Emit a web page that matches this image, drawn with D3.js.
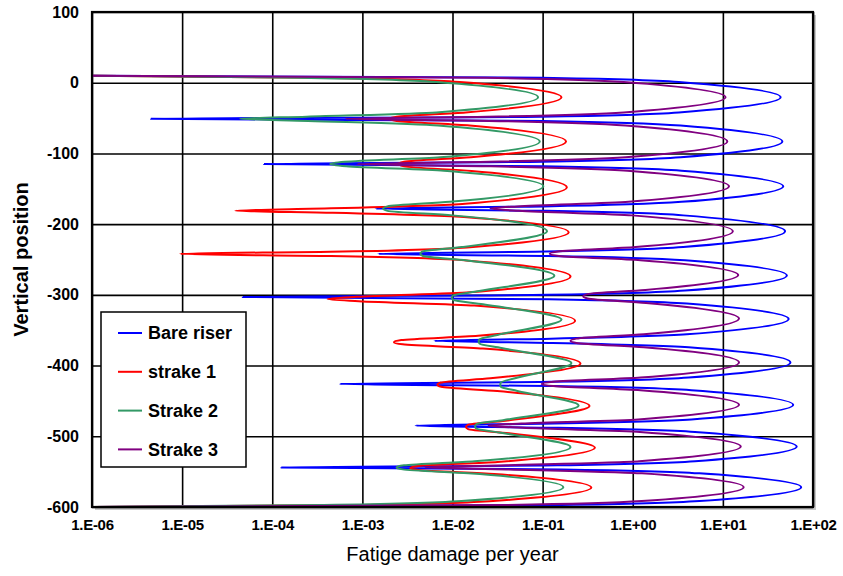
<!DOCTYPE html>
<html>
<head>
<meta charset="utf-8">
<script src="https://cdn.jsdelivr.net/npm/d3@7"></script>
<style>
  body { margin: 0; background: #fff; }
  #app { width: 843px; height: 576px; }
</style>
</head>
<body>
<div id="app"></div>
<script>
// [vertical position, fatigue damage per year]
const bareRiser = [
  [10, 1e-6], [7, 0.095], [1, 3.24], [-20.5, 43.7], [-42, 3.24], [-48, 0.095],
  [-51, 4.5e-6], [-54, 0.1], [-60.6, 3.39], [-83, 45.7], [-105.4, 3.39], [-111.8, 0.1],
  [-115, 8.1e-5], [-118.2, 0.102], [-124.5, 3.47], [-146.5, 46.8], [-168.5, 3.47], [-174.9, 0.103],
  [-178, 1.4e-3], [-181.2, 0.108], [-187.6, 3.63], [-210, 49], [-232.4, 3.63], [-238.8, 0.108],
  [-242, 1.5e-3], [-245, 0.114], [-251.2, 3.8], [-272.5, 51.3], [-293.9, 3.8], [-300, 0.112],
  [-303, 4.7e-5], [-306.1, 0.117], [-312.3, 3.98], [-334, 53.7], [-355.7, 3.98], [-361.9, 0.123],
  [-365, 6.3e-3], [-368, 0.129], [-374.2, 4.17], [-395.5, 56.2], [-416.9, 4.17], [-423, 0.124],
  [-426, 5.6e-4], [-429, 0.132], [-434.9, 4.47], [-455.5, 60.3], [-476.2, 4.47], [-482, 0.136],
  [-485, 3.9e-3], [-488, 0.149], [-493.9, 4.9], [-514.5, 66], [-535.2, 4.9], [-541, 0.145],
  [-544, 1.26e-4], [-546.8, 0.162], [-552.4, 5.5], [-572, 74], [-591.6, 5.5], [-597.2, 0.162],
  [-600, 1e-6]
];

const strake1 = [
  [10, 1e-6], [7, 3.5e-4], [1, 0.012], [-20.5, 0.162], [-42, 0.014], [-48, 0.0024],
  [-51, 2e-3], [-54, 0.0024], [-60.6, 0.0155], [-83, 0.182], [-105.4, 0.016], [-111.8, 0.0029],
  [-115, 2.5e-3], [-118.3, 0.0029], [-124.9, 0.0163], [-148, 0.186], [-171.1, 0.0138], [-177.7, 4.5e-4],
  [-181, 3.9e-5], [-184, 4.7e-4], [-190.2, 0.0145], [-211.5, 0.195], [-232.9, 0.0145], [-239, 4.4e-4],
  [-242, 9.5e-6], [-245.2, 4.5e-4], [-251.6, 0.0151], [-274, 0.204], [-296.4, 0.0155], [-302.8, 8.6e-4],
  [-306, 4.1e-4], [-309, 9.1e-4], [-315.2, 0.0174], [-336.5, 0.229], [-357.9, 0.0192], [-364, 0.0027],
  [-367, 2.24e-3], [-370, 0.0028], [-376, 0.0217], [-397, 0.263], [-418, 0.0263], [-424, 0.0074],
  [-427, 6.8e-3], [-430, 0.0075], [-436, 0.0313], [-457, 0.331], [-478, 0.0386], [-484, 0.0148],
  [-487, 1.41e-2], [-489.9, 0.0149], [-495.7, 0.0423], [-516, 0.38], [-536.3, 0.0316], [-542.1, 0.0042],
  [-545, 3.4e-3], [-547.8, 0.0042], [-553.3, 0.0291], [-572.5, 0.347], [-591.8, 0.0257], [-597.2, 7.6e-4],
  [-600, 1e-6]
];

const strake2 = [
  [10, 1e-6], [7, 1.95e-4], [1, 0.0066], [-20.5, 0.089], [-42, 0.0066], [-48, 2.4e-4],
  [-51, 4.4e-5], [-54, 2.5e-4], [-60.6, 0.0069], [-83, 0.093], [-105.4, 0.0073], [-111.8, 6.4e-4],
  [-115, 4.4e-4], [-118.2, 6.6e-4], [-124.5, 0.008], [-146.5, 0.102], [-168.5, 0.0093], [-174.9, 0.0019],
  [-178, 1.7e-3], [-181.2, 0.0019], [-187.6, 0.01], [-210, 0.112], [-232.4, 0.0127], [-238.8, 0.0046],
  [-242, 4.4e-3], [-245.1, 0.0047], [-251.3, 0.0144], [-273, 0.135], [-294.7, 0.0198], [-300.9, 0.0101],
  [-304, 9.8e-3], [-307.1, 0.0102], [-313.3, 0.0218], [-335, 0.162], [-356.7, 0.0315], [-362.9, 0.0199],
  [-366, 1.95e-2], [-369, 0.02], [-375.2, 0.035], [-396.5, 0.209], [-417.9, 0.0494], [-424, 0.0344],
  [-427, 3.39e-2], [-430, 0.0344], [-435.9, 0.0525], [-456.5, 0.251], [-477.2, 0.0364], [-483, 0.0184],
  [-486, 1.78e-2], [-488.9, 0.0183], [-494.7, 0.033], [-515, 0.204], [-535.3, 0.0175], [-541.1, 0.0029],
  [-544, 2.4e-3], [-546.8, 0.0028], [-552.4, 0.015], [-572, 0.17], [-591.6, 0.0126], [-597.2, 3.7e-4],
  [-600, 1e-6]
];

const strake3 = [
  [10, 1e-6], [7, 0.0234], [1, 0.794], [-20.5, 10.7], [-42, 0.795], [-48, 0.024],
  [-51, 6.5e-4], [-54, 0.0252], [-60.6, 0.832], [-83, 11.2], [-105.4, 0.833], [-111.8, 0.0254],
  [-115, 8.7e-4], [-118.2, 0.0266], [-124.5, 0.871], [-146.5, 11.7], [-168.5, 0.897], [-174.9, 0.052],
  [-178, 2.63e-2], [-181.2, 0.0545], [-187.6, 0.981], [-210, 12.9], [-232.4, 1.075], [-238.8, 0.148],
  [-242, 0.12], [-245, 0.152], [-251, 1.216], [-272, 14.8], [-293, 1.378], [-299, 0.314],
  [-302, 0.282], [-305.2, 0.315], [-311.5, 1.404], [-333.5, 15.1], [-355.6, 1.326], [-361.9, 0.237],
  [-365, 0.204], [-368, 0.237], [-374.2, 1.326], [-395.5, 15.1], [-416.9, 1.22], [-423, 0.131],
  [-426, 0.0977], [-429, 0.131], [-434.9, 1.22], [-455.5, 15.1], [-476.2, 1.147], [-482, 0.0582],
  [-485, 0.0251], [-488, 0.0598], [-493.9, 1.2], [-514.5, 15.8], [-535.2, 1.18], [-541, 0.0397],
  [-544, 5e-3], [-546.8, 0.042], [-552.4, 1.265], [-572, 17], [-591.6, 1.26], [-597.2, 0.0372],
  [-600, 1e-6]
];

const seriesNames = ["Bare riser", "strake 1", "Strake 2", "Strake 3"];
const seriesColors = ["#0000ff", "#ff0000", "#339966", "#800080"];
const seriesData = [bareRiser, strake1, strake2, strake3];

const xTicks = [1e-6, 1e-5, 1e-4, 1e-3, 1e-2, 1e-1, 1e0, 1e1, 1e2];
const xTickLabels = ["1.E-06", "1.E-05", "1.E-04", "1.E-03", "1.E-02", "1.E-01", "1.E+00", "1.E+01", "1.E+02"];
const yTicks = [100, 0, -100, -200, -300, -400, -500, -600];

const margin = { top: 12, right: 30, bottom: 69, left: 92 };
const width = 843 - margin.left - margin.right;
const height = 576 - margin.top - margin.bottom;

const svg = d3.select("#app")
  .append("svg")
  .attr("width", 843)
  .attr("height", 576)
  .style("font-family", "'Liberation Sans', Arial, sans-serif");

const g = svg.append("g")
  .attr("transform", `translate(${margin.left},${margin.top})`);

const x = d3.scaleLog().domain([1e-6, 1e2]).range([0, width]);
const y = d3.scaleLinear().domain([-600, 100]).range([height, 0]);

// plot area shadow + background
g.append("rect")
  .attr("x", 3).attr("y", 3)
  .attr("width", width).attr("height", height)
  .attr("fill", "#c8c8c8");
g.append("rect")
  .attr("width", width).attr("height", height)
  .attr("fill", "#fff");

// grid
g.append("g")
  .attr("transform", `translate(0,${height})`)
  .call(d3.axisBottom(x).tickValues(xTicks).tickSize(-height).tickFormat(""))
  .call(a => a.select(".domain").remove())
  .call(a => a.selectAll("line").attr("stroke", "#000").attr("stroke-width", 1.6));

g.append("g")
  .call(d3.axisLeft(y).tickValues(yTicks).tickSize(-width).tickFormat(""))
  .call(a => a.select(".domain").remove())
  .call(a => a.selectAll("line").attr("stroke", "#000").attr("stroke-width", 1.6));

g.append("clipPath").attr("id", "clip")
  .append("rect").attr("width", width).attr("height", height);

const line = d3.line()
  .x(d => x(d[1]))
  .y(d => y(d[0]))
  .curve(d3.curveMonotoneY);

const lines = g.append("g").attr("clip-path", "url(#clip)");
seriesData.forEach((data, i) => {
  lines.append("path")
    .datum(data)
    .attr("fill", "none")
    .attr("stroke", seriesColors[i])
    .attr("stroke-width", 2)
    .attr("stroke-linejoin", "round")
    .attr("d", line);
});

// frame
g.append("rect")
  .attr("width", width).attr("height", height)
  .attr("fill", "none")
  .attr("stroke", "#000")
  .attr("stroke-width", 2.2);

// tick labels
g.append("g")
  .attr("transform", `translate(0,${height})`)
  .call(d3.axisBottom(x).tickValues(xTicks).tickSize(0).tickPadding(12)
    .tickFormat((d, i) => xTickLabels[i]))
  .call(a => a.select(".domain").remove())
  .call(a => a.selectAll("text")
    .attr("fill", "#000")
    .style("font-size", "15px")
    .style("font-weight", "bold")
    .style("letter-spacing", "-0.3px"));

g.append("g")
  .call(d3.axisLeft(y).tickValues(yTicks).tickSize(0).tickPadding(13)
    .tickFormat(d => String(d)))
  .call(a => a.select(".domain").remove())
  .call(a => a.selectAll("text")
    .attr("fill", "#000")
    .style("font-size", "16px")
    .style("font-weight", "bold"));

// axis titles
svg.append("text")
  .attr("x", margin.left + width / 2)
  .attr("y", 561)
  .attr("text-anchor", "middle")
  .style("font-size", "20px")
  .text("Fatige damage per year");

svg.append("text")
  .attr("transform", `translate(28,${margin.top + height / 2}) rotate(-90)`)
  .attr("text-anchor", "middle")
  .style("font-size", "20px")
  .style("font-weight", "bold")
  .text("Vertical position");

// legend
const legend = svg.append("g").attr("transform", "translate(101,312)");
legend.append("rect")
  .attr("width", 145).attr("height", 155)
  .attr("fill", "#fff")
  .attr("stroke", "#000")
  .attr("stroke-width", 1.5);

seriesNames.forEach((name, i) => {
  const row = legend.append("g").attr("transform", `translate(0,${21 + i * 38.8})`);
  row.append("line")
    .attr("x1", 17).attr("x2", 41)
    .attr("stroke", seriesColors[i])
    .attr("stroke-width", 2);
  row.append("text")
    .attr("x", 47)
    .attr("dy", "0.35em")
    .style("font-size", "18px")
    .style("font-weight", "bold")
    .text(name);
});
</script>
</body>
</html>
